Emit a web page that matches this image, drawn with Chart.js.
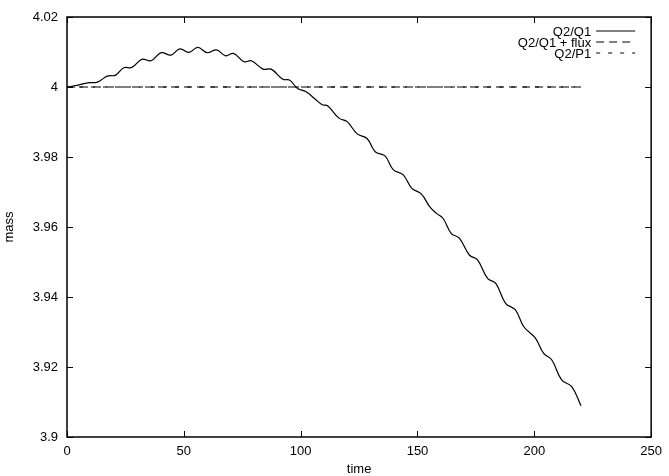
<!DOCTYPE html>
<html>
<head>
<meta charset="utf-8">
<script src="https://cdn.jsdelivr.net/npm/chart.js@4"></script>
<style>
  html, body { margin: 0; padding: 0; background: #fff; }
</style>
</head>
<body>
<canvas id="massChart" width="669" height="476"></canvas>
<script>
// values
const timeQ1 = [0, 5.2, 8.8, 13, 17.2, 20.8, 24.3, 27.8, 32, 36, 40.3, 44.5, 48.3, 52.1, 56, 60, 64, 67.9,
  71.2, 75.8, 78.9, 83.9, 87.4, 92.4, 95.2, 98.7, 102.2, 105.8, 109.3, 111.4, 116.4, 119.9, 124.2, 128.4,
  131.9, 136.1, 139.7, 143.9, 147.5, 151.7, 155.2, 158.1, 160.9, 164.4, 167.9, 172.2, 175.7, 180, 183.5,
  187.7, 191.9, 195.5, 200.4, 204, 207.5, 211.7, 216, 220];
const massQ1 = [4.0000, 4.0006, 4.0012, 4.0014, 4.0031, 4.0034, 4.0055, 4.0056, 4.0079, 4.0075, 4.0098,
  4.0091, 4.0109, 4.0099, 4.0113, 4.0098, 4.0106, 4.0089, 4.0096, 4.0072, 4.0075, 4.0051, 4.0051, 4.0022,
  4.0020, 3.9996, 3.9987, 3.9968, 3.9949, 3.9947, 3.9911, 3.9901, 3.9866, 3.9853, 3.9815, 3.9803, 3.9763,
  3.9749, 3.9711, 3.9694, 3.9658, 3.9639, 3.9625, 3.9582, 3.9568, 3.9520, 3.9506, 3.9453, 3.9439, 3.9382,
  3.9363, 3.9315, 3.9283, 3.9239, 3.9220, 3.9163, 3.9144, 3.9089];
const timeFlux = [0, 220];
const massFlux = [4, 4];
const timeP1 = [0, 220];
const massP1 = [4, 4];
const xTicks = [0, 50, 100, 150, 200, 250];
const yTicks = [3.9, 3.92, 3.94, 3.96, 3.98, 4, 4.02];

const FONT = "'Liberation Sans', Arial, sans-serif";
const toPoints = (xs, ys) => xs.map((x, i) => ({ x: x, y: ys[i] }));

// gnuplot-style frame with inward ticks on all four sides
const framePlugin = {
  id: 'frame',
  afterDatasetsDraw(chart) {
    const { ctx, chartArea: a, scales } = chart;
    ctx.save();
    ctx.strokeStyle = '#000';
    ctx.lineWidth = 1;
    ctx.beginPath();
    xTicks.forEach(v => {
      const px = Math.round(scales.x.getPixelForValue(v)) + 0.5;
      ctx.moveTo(px, a.bottom); ctx.lineTo(px, a.bottom - 6);
      ctx.moveTo(px, a.top); ctx.lineTo(px, a.top + 6);
    });
    yTicks.forEach(v => {
      const py = Math.round(scales.y.getPixelForValue(v)) + 0.5;
      ctx.moveTo(a.left, py); ctx.lineTo(a.left + 6, py);
      ctx.moveTo(a.right, py); ctx.lineTo(a.right - 6, py);
    });
    ctx.stroke();
    ctx.lineWidth = 1.5;
    ctx.strokeRect(a.left, a.top, a.right - a.left, a.bottom - a.top);

    // key, top right inside the frame
    ctx.font = '13px ' + FONT;
    ctx.fillStyle = '#000';
    ctx.textAlign = 'right';
    ctx.textBaseline = 'middle';
    chart.data.datasets.forEach((ds, i) => {
      const y = a.top + 15 + i * 11;
      ctx.fillText(ds.label, a.right - 60, y);
      ctx.lineWidth = ds.borderWidth;
      ctx.setLineDash(ds.borderDash || []);
      ctx.beginPath();
      ctx.moveTo(a.right - 55, y - 1);
      ctx.lineTo(a.right - 16, y - 1);
      ctx.stroke();
    });
    ctx.restore();
  }
};

new Chart(document.getElementById('massChart').getContext('2d'), {
  type: 'line',
  data: {
    datasets: [
      {
        label: 'Q2/Q1',
        data: toPoints(timeQ1, massQ1),
        borderColor: '#000',
        borderWidth: 1.2,
        pointRadius: 0,
        tension: 0.4
      },
      {
        label: 'Q2/Q1 + flux',
        data: toPoints(timeFlux, massFlux),
        borderColor: '#000',
        borderWidth: 1.2,
        borderDash: [8, 5],
        pointRadius: 0
      },
      {
        label: 'Q2/P1',
        data: toPoints(timeP1, massP1),
        borderColor: '#000',
        borderWidth: 1.2,
        borderDash: [4, 8],
        pointRadius: 0
      }
    ]
  },
  options: {
    responsive: false,
    animation: false,
    layout: { padding: { left: 0, right: 12, top: 17, bottom: 0 } },
    plugins: { legend: { display: false }, tooltip: { enabled: false } },
    scales: {
      x: {
        type: 'linear',
        min: 0,
        max: 250,
        afterFit: s => { s.height = 39; },
        afterBuildTicks: s => { s.ticks = xTicks.map(v => ({ value: v })); },
        grid: { display: false, drawTicks: false },
        border: { display: false },
        ticks: { padding: 7, color: '#000', font: { family: FONT, size: 13 }, maxRotation: 0 },
        title: { display: true, text: 'time', color: '#000', padding: 0,
                 font: { family: FONT, size: 13, lineHeight: 1 } }
      },
      y: {
        type: 'linear',
        min: 3.9,
        max: 4.02,
        afterFit: s => { s.width = 67; },
        afterBuildTicks: s => { s.ticks = yTicks.map(v => ({ value: v })); },
        grid: { display: false, drawTicks: false },
        border: { display: false },
        ticks: {
          padding: 9, color: '#000', font: { family: FONT, size: 13 },
          callback: v => String(Number(v.toFixed(2)))
        },
        title: { display: true, text: 'mass', color: '#000', padding: 3,
                 font: { family: FONT, size: 13, lineHeight: 1 } }
      }
    }
  },
  plugins: [framePlugin]
});
</script>
</body>
</html>
